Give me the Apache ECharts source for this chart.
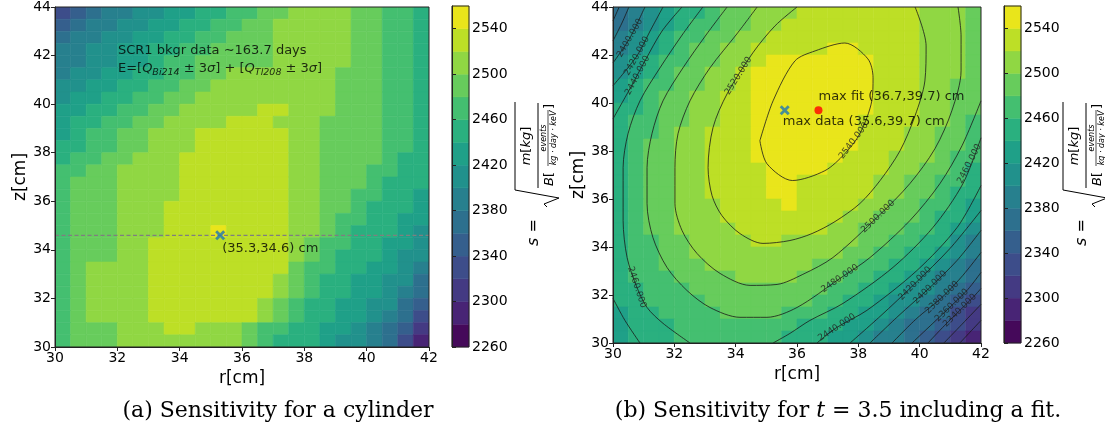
<!DOCTYPE html>
<html>
<head>
<meta charset="utf-8">
<script src="https://cdn.jsdelivr.net/npm/echarts@6/dist/echarts.min.js"></script>
<style>
html, body { margin: 0; padding: 0; background: #fff; }
#chart { width: 1105px; height: 432px; }
</style>
</head>
<body>
<div id="chart"></div>
<script>
// cell centres of the sensitivity maps (cm)
var rCells = [30.25, 30.75, 31.25, 31.75, 32.25, 32.75, 33.25, 33.75, 34.25, 34.75, 35.25, 35.75,
              36.25, 36.75, 37.25, 37.75, 38.25, 38.75, 39.25, 39.75, 40.25, 40.75, 41.25, 41.75];
var zCells = [43.75, 43.25, 42.75, 42.25, 41.75, 41.25, 40.75, 40.25, 39.75, 39.25, 38.75, 38.25, 37.75, 37.25,
              36.75, 36.25, 35.75, 35.25, 34.75, 34.25, 33.75, 33.25, 32.75, 32.25, 31.75, 31.25, 30.75, 30.25];

// contour levels (lower edge of each band) and colorbar ticks
var levels = [2260, 2280, 2300, 2320, 2340, 2360, 2380, 2400, 2420, 2440, 2460, 2480, 2500, 2520, 2540];
var cbTicks = [2260, 2300, 2340, 2380, 2420, 2460, 2500, 2540];
var levelColors = ['#45095a', '#482475', '#443a83', '#3d4d8a', '#355f8d', '#2d708e', '#27808e', '#21918c',
                   '#1fa088', '#2ab07f', '#44bf70', '#67cc5c', '#90d743', '#bddf26', '#e9e51b'];

// (a) cylinder, rows from z=43.75 down to z=30.25
var sensCylinder = [
  [2330,2350,2370,2390,2390,2410,2410,2430,2430,2450,2450,2470,2470,2490,2490,2510,2510,2510,2510,2490,2490,2470,2470,2450],
  [2350,2370,2390,2390,2410,2410,2430,2430,2450,2450,2470,2470,2490,2490,2510,2510,2510,2510,2510,2490,2490,2470,2470,2450],
  [2370,2390,2390,2410,2410,2430,2430,2450,2450,2470,2470,2490,2490,2490,2510,2510,2510,2510,2510,2490,2490,2470,2470,2450],
  [2390,2390,2410,2410,2430,2430,2450,2450,2470,2470,2490,2490,2490,2490,2510,2510,2510,2510,2510,2490,2490,2470,2470,2450],
  [2390,2390,2410,2410,2430,2430,2450,2470,2470,2490,2490,2490,2490,2490,2510,2510,2510,2510,2510,2490,2490,2470,2470,2450],
  [2390,2410,2410,2430,2430,2450,2450,2470,2470,2490,2490,2510,2510,2510,2510,2510,2510,2510,2490,2490,2490,2470,2470,2450],
  [2410,2410,2430,2430,2450,2450,2470,2470,2490,2490,2510,2510,2510,2510,2510,2510,2510,2510,2490,2490,2490,2470,2470,2450],
  [2410,2430,2430,2450,2450,2470,2470,2490,2490,2510,2510,2510,2510,2510,2510,2510,2510,2510,2490,2490,2490,2470,2470,2450],
  [2430,2430,2450,2450,2470,2470,2490,2490,2510,2510,2510,2510,2510,2530,2530,2510,2510,2510,2490,2490,2490,2470,2470,2450],
  [2430,2450,2450,2470,2470,2490,2490,2510,2510,2510,2510,2530,2530,2530,2510,2510,2510,2490,2490,2490,2490,2470,2470,2450],
  [2430,2450,2470,2470,2490,2490,2510,2510,2510,2530,2530,2530,2530,2530,2530,2510,2510,2490,2490,2490,2490,2470,2470,2450],
  [2450,2450,2470,2470,2490,2490,2510,2510,2510,2530,2530,2530,2530,2530,2530,2510,2510,2490,2490,2490,2490,2470,2470,2450],
  [2450,2470,2470,2490,2490,2510,2510,2510,2530,2530,2530,2530,2530,2530,2530,2510,2510,2490,2490,2490,2490,2470,2450,2450],
  [2470,2470,2490,2490,2510,2510,2510,2510,2530,2530,2530,2530,2530,2530,2530,2510,2510,2490,2490,2490,2470,2470,2450,2450],
  [2470,2490,2490,2490,2510,2510,2510,2510,2530,2530,2530,2530,2530,2530,2530,2510,2510,2490,2490,2490,2470,2450,2450,2450],
  [2470,2490,2490,2490,2510,2510,2510,2510,2530,2530,2530,2530,2530,2530,2530,2510,2510,2490,2490,2470,2470,2450,2450,2430],
  [2470,2490,2490,2490,2510,2510,2510,2530,2530,2530,2530,2530,2530,2530,2530,2510,2510,2490,2490,2470,2450,2450,2450,2430],
  [2470,2490,2490,2490,2510,2510,2510,2530,2530,2530,2530,2530,2530,2530,2530,2510,2510,2490,2470,2470,2450,2450,2430,2430],
  [2470,2490,2490,2490,2510,2510,2510,2530,2530,2530,2550,2530,2530,2530,2530,2510,2510,2490,2470,2450,2450,2450,2430,2410],
  [2470,2490,2490,2490,2510,2510,2530,2530,2530,2530,2530,2530,2530,2530,2530,2510,2490,2470,2470,2450,2450,2430,2430,2410],
  [2470,2490,2490,2490,2510,2510,2530,2530,2530,2530,2530,2530,2530,2530,2530,2510,2490,2470,2450,2450,2450,2430,2410,2410],
  [2470,2490,2510,2510,2510,2510,2530,2530,2530,2530,2530,2530,2530,2530,2530,2490,2470,2470,2450,2450,2430,2430,2410,2390],
  [2470,2490,2510,2510,2510,2510,2530,2530,2530,2530,2530,2530,2530,2530,2510,2490,2470,2450,2450,2430,2430,2410,2410,2370],
  [2470,2490,2510,2510,2510,2510,2530,2530,2530,2530,2530,2530,2530,2530,2510,2490,2470,2450,2450,2430,2430,2410,2390,2370],
  [2470,2490,2510,2510,2510,2510,2530,2530,2530,2530,2530,2530,2530,2510,2490,2470,2450,2450,2430,2430,2410,2410,2370,2350],
  [2470,2490,2510,2510,2510,2510,2530,2530,2530,2530,2530,2530,2530,2510,2490,2470,2450,2450,2430,2430,2410,2390,2370,2330],
  [2470,2490,2490,2490,2510,2510,2510,2530,2530,2510,2510,2510,2490,2470,2470,2450,2450,2430,2430,2410,2390,2370,2350,2310],
  [2470,2490,2490,2490,2510,2510,2510,2510,2510,2510,2510,2510,2490,2470,2450,2450,2450,2430,2410,2410,2390,2370,2330,2290]
];

// (b) t = 3.5, rows from z=43.75 down to z=30.25
var sensFit = [
  [2370,2390,2410,2430,2450,2450,2470,2490,2490,2510,2510,2510,2530,2530,2530,2530,2530,2530,2530,2530,2510,2510,2510,2490],
  [2370,2390,2410,2430,2450,2470,2470,2490,2490,2510,2510,2530,2530,2530,2530,2530,2530,2530,2530,2530,2510,2510,2510,2490],
  [2390,2410,2430,2450,2470,2470,2490,2490,2510,2510,2530,2530,2530,2530,2530,2530,2530,2530,2530,2530,2510,2510,2510,2490],
  [2390,2410,2430,2450,2470,2490,2490,2510,2510,2530,2530,2530,2530,2530,2550,2550,2530,2530,2530,2530,2510,2510,2510,2490],
  [2410,2430,2450,2470,2470,2490,2490,2510,2510,2530,2550,2550,2550,2550,2550,2550,2550,2530,2530,2530,2510,2510,2510,2490],
  [2410,2430,2450,2470,2490,2490,2510,2510,2530,2550,2550,2550,2550,2550,2550,2550,2550,2530,2530,2530,2510,2510,2510,2490],
  [2430,2450,2470,2470,2490,2490,2510,2510,2530,2550,2550,2550,2550,2550,2550,2550,2550,2530,2530,2530,2510,2510,2490,2490],
  [2430,2450,2470,2490,2490,2510,2510,2530,2530,2550,2550,2550,2550,2550,2550,2550,2550,2530,2530,2530,2510,2510,2490,2490],
  [2450,2450,2470,2490,2490,2510,2510,2530,2530,2550,2550,2550,2550,2550,2550,2550,2550,2530,2530,2530,2510,2510,2490,2490],
  [2450,2470,2470,2490,2490,2510,2510,2530,2530,2550,2550,2550,2550,2550,2550,2550,2530,2530,2530,2530,2510,2510,2490,2470],
  [2450,2470,2470,2490,2510,2510,2530,2530,2530,2550,2550,2550,2550,2550,2550,2550,2530,2530,2530,2510,2510,2490,2490,2470],
  [2450,2470,2490,2490,2510,2510,2530,2530,2530,2550,2550,2550,2550,2550,2550,2550,2530,2530,2530,2510,2510,2490,2490,2470],
  [2450,2470,2490,2490,2510,2510,2530,2530,2530,2550,2550,2550,2550,2550,2550,2530,2530,2530,2510,2510,2510,2490,2470,2470],
  [2450,2470,2490,2490,2510,2510,2530,2530,2530,2530,2550,2550,2550,2550,2530,2530,2530,2530,2510,2510,2490,2490,2470,2450],
  [2450,2470,2490,2490,2510,2510,2530,2530,2530,2530,2550,2550,2530,2530,2530,2530,2530,2510,2510,2490,2490,2470,2470,2450],
  [2450,2470,2490,2490,2510,2510,2530,2530,2530,2530,2550,2550,2530,2530,2530,2530,2530,2510,2510,2490,2490,2470,2450,2450],
  [2450,2470,2490,2490,2510,2510,2510,2530,2530,2530,2530,2550,2530,2530,2530,2530,2510,2510,2490,2490,2470,2470,2450,2430],
  [2450,2470,2490,2490,2510,2510,2510,2530,2530,2530,2530,2530,2530,2530,2530,2510,2510,2490,2490,2490,2470,2450,2450,2430],
  [2450,2470,2490,2490,2510,2510,2510,2510,2530,2530,2530,2530,2530,2530,2510,2510,2490,2490,2490,2470,2470,2450,2430,2410],
  [2450,2470,2470,2490,2490,2510,2510,2510,2510,2530,2530,2510,2510,2510,2510,2510,2490,2490,2470,2470,2450,2450,2410,2390],
  [2450,2470,2470,2490,2490,2510,2510,2510,2510,2510,2510,2510,2510,2510,2510,2490,2490,2470,2470,2450,2450,2430,2410,2390],
  [2450,2470,2470,2490,2490,2490,2510,2510,2510,2510,2510,2510,2510,2490,2490,2490,2470,2470,2450,2450,2430,2410,2390,2370],
  [2450,2470,2470,2470,2490,2490,2490,2490,2510,2510,2510,2510,2490,2490,2490,2470,2470,2450,2450,2430,2410,2390,2390,2370],
  [2450,2450,2470,2470,2470,2490,2490,2490,2490,2490,2490,2490,2490,2490,2470,2470,2450,2450,2430,2410,2410,2390,2370,2350],
  [2450,2450,2470,2470,2470,2470,2490,2490,2490,2490,2490,2490,2490,2470,2470,2450,2450,2430,2410,2410,2390,2370,2350,2330],
  [2430,2450,2450,2470,2470,2470,2470,2490,2490,2490,2490,2470,2470,2470,2450,2450,2430,2430,2410,2390,2370,2370,2330,2310],
  [2430,2450,2450,2450,2470,2470,2470,2470,2470,2470,2470,2470,2450,2450,2450,2430,2430,2410,2390,2370,2370,2350,2330,2310],
  [2430,2450,2450,2450,2470,2470,2470,2470,2470,2470,2470,2450,2450,2450,2430,2430,2410,2390,2390,2370,2350,2330,2310,2290]
];

// maxima [r, z]
var maxCylinder = [35.3, 34.6];
var maxData = [35.6, 39.7];
var maxFit = [36.7, 39.7];

// fitted contour lines, points [r, z]
var fitContours = [
  { level: 2540, pts: [[34.79,38.43],[35.02,37.47],[35.85,36.77],[36.91,37.18],[37.56,37.89],[38.05,38.72],[38.44,40.09],[38.48,41.05],[38.31,41.84],[37.56,42.50],[36.59,42.17],[35.93,41.75],[35.22,40.09],[34.79,38.43]] },
  { level: 2520, pts: [[36.00,44.00],[35.28,43.21],[34.56,42.09],[33.72,40.38],[33.26,38.97],[33.10,37.31],[33.23,36.14],[33.55,35.31],[34.14,34.56],[34.89,34.15],[35.77,34.27],[36.49,34.56],[37.24,35.06],[38.05,35.81],[38.71,36.77],[39.36,38.01],[39.85,39.47],[40.17,40.92],[40.21,42.38],[39.85,44.00]] },
  { level: 2500, pts: [[34.70,44.00],[34.04,42.88],[33.16,41.46],[32.51,40.09],[32.12,38.72],[32.02,37.31],[32.02,35.81],[32.25,34.69],[32.74,33.73],[33.49,32.90],[34.47,32.40],[35.35,32.44],[36.19,32.86],[37.17,33.56],[38.64,35.27],[39.68,36.64],[40.50,38.10],[41.05,39.68],[41.35,41.34],[41.35,42.79],[41.25,44.00]] },
  { level: 2480, pts: [[33.72,44.00],[33.06,42.88],[32.28,41.46],[31.63,40.09],[31.27,38.72],[31.11,37.31],[31.11,35.81],[31.30,34.40],[31.76,33.15],[32.41,32.19],[33.16,31.48],[34.14,31.07],[35.02,31.07],[36.00,31.48],[37.40,32.69],[38.38,33.56],[39.68,35.10],[40.66,36.64],[41.38,38.22],[42.00,40.09]] },
  { level: 2460, pts: [[32.93,44.00],[32.28,42.88],[31.53,41.46],[30.88,40.09],[30.49,38.72],[30.33,37.31],[30.33,35.10],[30.46,33.56],[30.78,32.32],[31.11,31.48],[31.63,30.82],[32.51,30.00]] },
  { level: 2460, pts: [[35.22,30.00],[35.77,30.40],[36.42,30.94],[37.50,31.65],[39.13,33.15],[40.43,34.81],[41.41,36.64],[42.00,38.55]] },
  { level: 2440, pts: [[32.25,44.00],[31.60,43.00],[31.04,41.75],[30.55,40.59],[30.00,39.34]] },
  { level: 2440, pts: [[30.00,31.86],[30.39,30.94],[30.88,30.00]] },
  { level: 2440, pts: [[36.65,30.00],[37.30,30.65],[38.28,31.36],[39.91,33.02],[41.22,34.81],[42.00,36.56]] },
  { level: 2420, pts: [[30.00,40.72],[30.78,41.96],[31.21,43.00],[31.63,44.00]] },
  { level: 2420, pts: [[37.73,30.00],[38.71,31.11],[39.85,32.48],[40.99,33.94],[42.00,35.52]] },
  { level: 2400, pts: [[30.00,41.67],[30.55,42.71],[31.04,44.00]] },
  { level: 2400, pts: [[38.38,30.00],[39.29,31.11],[40.34,32.32],[41.22,33.44],[42.00,34.69]] },
  { level: 2380, pts: [[30.00,42.59],[30.29,43.33],[30.52,44.00]] },
  { level: 2380, pts: [[39.10,30.00],[39.91,31.03],[40.73,31.90],[41.41,32.82],[42.00,33.77]] },
  { level: 2360, pts: [[30.00,43.42],[30.20,44.00]] },
  { level: 2360, pts: [[39.75,30.00],[40.43,30.82],[41.05,31.57],[41.57,32.23],[42.00,32.94]] },
  { level: 2340, pts: [[40.27,30.00],[40.82,30.74],[41.31,31.36],[41.71,31.86],[42.00,32.27]] },
  { level: 2320, pts: [[40.79,30.00],[41.38,30.78],[42.00,31.61]] },
  { level: 2300, pts: [[41.31,30.00],[41.64,30.45],[42.00,30.94]] }
];

// inline contour labels: where they sit and how they are turned
var fitLabels = [
  { level: 2400, at: [30.55, 42.71], angle: 60 },
  { level: 2420, at: [30.78, 41.96], angle: 61 },
  { level: 2440, at: [30.80, 41.15], angle: 62 },
  { level: 2520, at: [34.09, 41.13], angle: 58 },
  { level: 2460, at: [30.78, 32.32], angle: -72 },
  { level: 2540, at: [37.85, 38.43], angle: 53 },
  { level: 2500, at: [38.64, 35.27], angle: 44 },
  { level: 2480, at: [37.40, 32.69], angle: 34 },
  { level: 2440, at: [37.30, 30.65], angle: 33 },
  { level: 2460, at: [41.62, 37.47], angle: 63 },
  { level: 2420, at: [39.85, 32.48], angle: 46 },
  { level: 2400, at: [40.34, 32.32], angle: 45 },
  { level: 2380, at: [40.73, 31.90], angle: 44 },
  { level: 2360, at: [41.05, 31.57], angle: 44 },
  { level: 2340, at: [41.31, 31.36], angle: 45 }
];

var FONT = 'DejaVu Sans';
var halfR = (rCells[1] - rCells[0]) / 2;
var halfZ = (zCells[0] - zCells[1]) / 2;
var bandStep = levels[1] - levels[0];

function bandColor(s) {
  var k = 0;
  while (k < levels.length - 1 && s >= levels[k + 1]) k++;
  return levelColors[k];
}

function cellSeries(idx, grid) {
  var data = [];
  zCells.forEach(function (z, j) {
    rCells.forEach(function (r, i) { data.push([r, z, grid[j][i]]); });
  });
  return {
    type: 'custom', xAxisIndex: idx, yAxisIndex: idx, silent: true, clip: true, z: 1,
    renderItem: function (params, api) {
      var r = api.value(0), z = api.value(1), c = bandColor(api.value(2));
      var a = api.coord([r - halfR, z + halfZ]);
      var b = api.coord([r + halfR, z - halfZ]);
      return {
        type: 'rect',
        shape: { x: a[0], y: a[1], width: b[0] - a[0], height: b[1] - a[1] },
        style: { fill: c, stroke: c, lineWidth: 0.6 }
      };
    },
    data: data
  };
}

function colorbarSeries(idx) {
  return {
    type: 'custom', xAxisIndex: idx, yAxisIndex: idx, silent: true, z: 1,
    renderItem: function (params, api) {
      var lo = api.value(1);
      var a = api.coord([0, lo + bandStep]);
      var b = api.coord([1, lo]);
      var c = bandColor(lo);
      return {
        type: 'rect',
        shape: { x: a[0], y: a[1], width: b[0] - a[0], height: b[1] - a[1] },
        style: { fill: c, stroke: c, lineWidth: 0.5 }
      };
    },
    data: levels.map(function (l) { return [0.5, l]; })
  };
}

var axisLine = { show: true, onZero: false, lineStyle: { color: '#222', width: 1 } };
var axisTick = { show: true, length: 4, lineStyle: { color: '#222', width: 1 } };

function mainX(gi) {
  return {
    gridIndex: gi, type: 'value', min: 30, max: 42, interval: 2, z: 10,
    name: 'r[cm]', nameLocation: 'middle', nameGap: 19,
    nameTextStyle: { fontSize: 17, color: '#000', fontFamily: FONT },
    axisLine: axisLine, axisTick: axisTick,
    axisLabel: { fontSize: 14, color: '#000', margin: 4, fontFamily: FONT },
    splitLine: { show: false }
  };
}
function mainY(gi) {
  return {
    gridIndex: gi, type: 'value', min: 30, max: 44, interval: 2, z: 10,
    name: 'z[cm]', nameLocation: 'middle', nameGap: 25, nameRotate: 90,
    nameTextStyle: { fontSize: 17, color: '#000', fontFamily: FONT },
    axisLine: axisLine, axisTick: axisTick,
    axisLabel: { fontSize: 14, color: '#000', margin: 4, fontFamily: FONT },
    splitLine: { show: false }
  };
}
function cbX(gi) {
  return { gridIndex: gi, type: 'value', min: 0, max: 1, show: false };
}
function cbY(gi) {
  return {
    gridIndex: gi, type: 'value', min: levels[0], max: levels[levels.length - 1] + bandStep,
    position: 'right', z: 10,
    axisLine: { show: true, lineStyle: { color: '#222', width: 1 } },
    axisTick: { show: true, length: 4, lineStyle: { color: '#222' }, customValues: cbTicks },
    axisLabel: {
      fontSize: 14, color: '#000', margin: 3, fontFamily: FONT, customValues: cbTicks,
      formatter: function (v) { return String(v); }
    },
    splitLine: { show: false }
  };
}

var gridBase = { show: true, borderColor: '#222', borderWidth: 1, backgroundColor: 'rgba(0,0,0,0)', z: 10, containLabel: false };
function gridAt(l, t, w, h) {
  return Object.assign({ left: l, top: t, width: w, height: h }, gridBase);
}

var xMarker = 'path://M2,0 L5,3 L8,0 L10,2 L7,5 L10,8 L8,10 L5,7 L2,10 L0,8 L3,5 L0,2 Z';

function textPoint(idx, at, text, offset, rich) {
  return {
    type: 'scatter', xAxisIndex: idx, yAxisIndex: idx, silent: true, z: 6,
    symbolSize: 0,
    label: {
      show: true, position: 'right', distance: 0, offset: offset, align: 'left',
      verticalAlign: 'middle', color: '#000', fontSize: 13, fontFamily: FONT,
      formatter: text, rich: rich || {}
    },
    data: [at]
  };
}

var series = [
  cellSeries(0, sensCylinder),
  cellSeries(1, sensFit),
  colorbarSeries(2),
  colorbarSeries(3),
  {
    type: 'line', xAxisIndex: 0, yAxisIndex: 0, silent: true, z: 4, symbol: 'none',
    lineStyle: { color: '#7f7f7f', width: 1.2, type: [4, 2.5] },
    data: [[30, maxCylinder[1]], [42, maxCylinder[1]]]
  },
  {
    type: 'scatter', xAxisIndex: 0, yAxisIndex: 0, silent: true, z: 5,
    symbol: xMarker, symbolSize: 10, itemStyle: { color: '#1f77b4' }, data: [maxCylinder]
  },
  {
    type: 'scatter', xAxisIndex: 1, yAxisIndex: 1, silent: true, z: 5,
    symbol: xMarker, symbolSize: 10, itemStyle: { color: '#1f77b4' }, data: [maxData]
  },
  {
    type: 'scatter', xAxisIndex: 1, yAxisIndex: 1, silent: true, z: 5,
    symbol: 'circle', symbolSize: 8, itemStyle: { color: '#ff0000' }, data: [maxFit]
  },
  textPoint(0, maxCylinder, '(' + maxCylinder.join(',') + ') cm', [2, 13]),
  textPoint(1, maxFit, 'max fit (' + maxFit.join(',') + ') cm', [0, -14]),
  textPoint(1, maxData, 'max data (' + maxData.join(',') + ') cm', [-2, 11]),
  textPoint(0, [32.02, 42.19], 'SCR1 bkgr data \u223c163.7 days', [0, 0]),
  textPoint(0, [32.02, 41.45],
    '{n|E=[}{i|Q}{s|Bi214}{n| \u00b1 3}{i|\u03c3}{n|] + [}{i|Q}{s|Tl208}{n| \u00b1 3}{i|\u03c3}{n|]}', [0, 0], {
      n: { fontSize: 13, color: '#000', fontFamily: FONT },
      i: { fontSize: 13, color: '#000', fontFamily: FONT, fontStyle: 'italic' },
      s: { fontSize: 9.5, color: '#000', fontFamily: FONT, fontStyle: 'italic', padding: [7, 0, 0, 0] }
    })
];

fitContours.forEach(function (c) {
  series.push({
    type: 'line', xAxisIndex: 1, yAxisIndex: 1, silent: true, z: 3, symbol: 'none',
    smooth: 0.3, lineStyle: { color: '#1a1a1a', width: 0.8 }, data: c.pts
  });
});

series.push({
  type: 'scatter', xAxisIndex: 1, yAxisIndex: 1, silent: true, z: 4, symbolSize: 0,
  label: { show: true, position: 'inside', fontSize: 9, color: '#222', fontFamily: FONT },
  data: fitLabels.map(function (l) {
    return { value: l.at, label: { rotate: l.angle, formatter: l.level.toFixed(3) } };
  })
});

// rotated colorbar title s = sqrt(m[kg] / B[events / kg day keV])
function cbTitle(x0) {
  var it = { fontStyle: 'italic', fontFamily: FONT };
  return {
    type: 'group', x: x0, y: 250, rotation: Math.PI / 2, silent: true,
    children: [
      { type: 'text', x: 4, y: 23, style: { text: '{i|s} =', rich: { i: Object.assign({ fontSize: 16 }, it) }, fontSize: 16, fontFamily: FONT, fill: '#000', align: 'left', verticalAlign: 'middle' } },
      { type: 'polyline', shape: { points: [[43, 36], [46, 33], [52, 48], [60, 4], [148, 4]] }, style: { stroke: '#000', lineWidth: 1, fill: 'none' } },
      { type: 'text', x: 104, y: 16, style: { text: '{i|m}[{i|kg}]', rich: { i: Object.assign({ fontSize: 13 }, it) }, fontSize: 13, fontFamily: FONT, fill: '#000', align: 'center', verticalAlign: 'middle' } },
      { type: 'line', shape: { x1: 62, y1: 27, x2: 147, y2: 27 }, style: { stroke: '#000', lineWidth: 1 } },
      { type: 'text', x: 64, y: 39, style: { text: '{i|B}[', rich: { i: Object.assign({ fontSize: 13 }, it) }, fontSize: 13, fontFamily: FONT, fill: '#000', align: 'left', verticalAlign: 'middle' } },
      { type: 'text', x: 112, y: 32.5, style: { text: 'events', fontSize: 8, fontStyle: 'italic', fontFamily: FONT, fill: '#000', align: 'center', verticalAlign: 'middle' } },
      { type: 'line', shape: { x1: 84, y1: 37, x2: 140, y2: 37 }, style: { stroke: '#000', lineWidth: 0.7 } },
      { type: 'text', x: 112, y: 42.5, style: { text: 'kg \u00b7 day \u00b7 keV', fontSize: 8, fontStyle: 'italic', fontFamily: FONT, fill: '#000', align: 'center', verticalAlign: 'middle' } },
      { type: 'text', x: 141, y: 39, style: { text: ']', fontSize: 13, fontFamily: FONT, fill: '#000', align: 'left', verticalAlign: 'middle' } }
    ]
  };
}

var option = {
  animation: false,
  backgroundColor: '#fff',
  textStyle: { fontFamily: FONT },
  grid: [
    gridAt(55, 6, 374, 341),
    gridAt(613, 6, 368, 337),
    gridAt(452, 6, 17, 341),
    gridAt(1004, 6, 17, 337)
  ],
  xAxis: [mainX(0), mainX(1), cbX(2), cbX(3)],
  yAxis: [mainY(0), mainY(1), cbY(2), cbY(3)],
  series: series,
  graphic: [
    cbTitle(511),
    cbTitle(1059),
    { type: 'text', x: 278, y: 411, silent: true, style: { text: '(a) Sensitivity for a cylinder', fontSize: 22, fontFamily: 'DejaVu Serif', fill: '#000', align: 'center', verticalAlign: 'middle' } },
    { type: 'text', x: 838, y: 411, silent: true, style: { text: '(b) Sensitivity for {i|t} = 3.5 including a fit.', rich: { i: { fontSize: 22, fontFamily: 'DejaVu Serif', fontStyle: 'italic' } }, fontSize: 22, fontFamily: 'DejaVu Serif', fill: '#000', align: 'center', verticalAlign: 'middle' } }
  ]
};

var myChart = echarts.init(document.getElementById('chart'));
myChart.setOption(option);
</script>
</body>
</html>
